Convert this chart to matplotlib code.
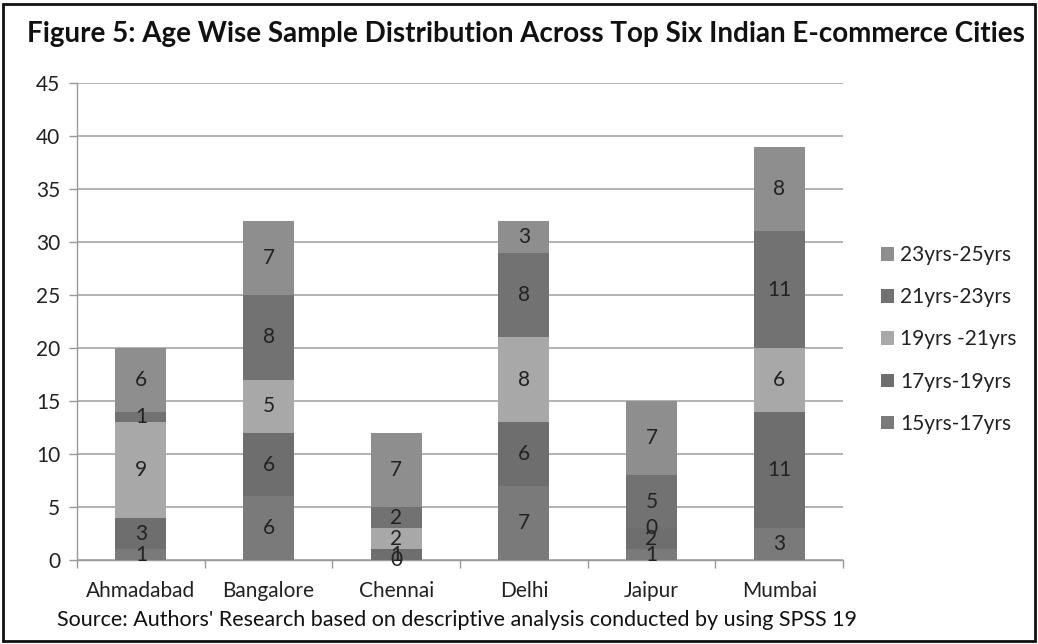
import matplotlib
matplotlib.use("Agg")
import matplotlib.pyplot as plt
from matplotlib.patches import Rectangle
import numpy as np

plt.rcParams['font.family'] = ['Lato', 'DejaVu Sans']

cities = ["Ahmadabad", "Bangalore", "Chennai", "Delhi", "Jaipur", "Mumbai"]
age_groups = ["15yrs-17yrs", "17yrs-19yrs", "19yrs -21yrs", "21yrs-23yrs", "23yrs-25yrs"]
age_15_17 = [1, 6, 0, 7, 1, 3]
age_17_19 = [3, 6, 1, 6, 2, 11]
age_19_21 = [9, 5, 2, 8, 0, 6]
age_21_23 = [1, 8, 2, 8, 5, 11]
age_23_25 = [6, 7, 7, 3, 7, 8]
y_ticks = [0, 5, 10, 15, 20, 25, 30, 35, 40, 45]

series = [age_15_17, age_17_19, age_19_21, age_21_23, age_23_25]
colors = ["#7a7a7a", "#6e6e6e", "#a8a8a8", "#727272", "#8e8e8e"]

fig = plt.figure(figsize=(10.38, 6.44), dpi=100)
ax = fig.add_axes([0.0742, 0.1304, 0.7380, 0.7407])

x = np.arange(len(cities))
bottom = np.zeros(len(cities))
handles = []
for vals, col, name in zip(series, colors, age_groups):
    vals = np.array(vals, dtype=float)
    h = ax.bar(x, vals, bottom=bottom, width=0.4, color=col, label=name, zorder=3)
    handles.append(h)
    for xi, v, b in zip(x, vals, bottom):
        ax.text(xi, b + v / 2, f"{int(v)}", ha="center", va="center",
                fontsize=15, color="#222222", zorder=4)
    bottom += vals

ax.set_xlim(-0.5, len(cities) - 0.5)
ax.set_ylim(0, 45)
ax.set_yticks(y_ticks)
ax.set_xticks(x)
ax.set_xticklabels(cities)
ax.set_xticks(np.arange(len(cities) + 1) - 0.5, minor=True)
ax.tick_params(axis="x", which="major", length=0, pad=15, labelsize=15, labelcolor="#222222")
ax.tick_params(axis="x", which="minor", length=6, color="#999999", width=1)
ax.tick_params(axis="y", length=6, color="#999999", width=1, labelsize=15,
               labelcolor="#222222", pad=6)
ax.yaxis.grid(True, color="#a6a6a6", linewidth=1.2, zorder=0)
ax.set_axisbelow(True)
for s in ["top", "right"]:
    ax.spines[s].set_visible(False)
for s in ["left", "bottom"]:
    ax.spines[s].set_color("#999999")
    ax.spines[s].set_linewidth(1)

leg = fig.legend(handles[::-1], age_groups[::-1], loc="upper left",
                 bbox_to_anchor=(0.833, 0.645), frameon=False, fontsize=15,
                 handlelength=0.6, handleheight=0.6, handletextpad=0.3,
                 labelspacing=1.06, labelcolor="#222222", borderpad=0.3)

fig.text(0.507, 0.947, "Figure 5: Age Wise Sample Distribution Across Top Six Indian E-commerce Cities",
         ha="center", va="center", fontsize=20, fontweight="bold", color="#111111")
fig.text(0.44, 0.037, "Source: Authors' Research based on descriptive analysis conducted by using SPSS 19",
         ha="center", va="center", fontsize=15.5, color="#111111")

fig.patches.append(Rectangle((0.003, 0.004), 0.994, 0.99, transform=fig.transFigure,
                             fill=False, edgecolor="#111111", linewidth=2))

fig.savefig("out.png", dpi=100)
